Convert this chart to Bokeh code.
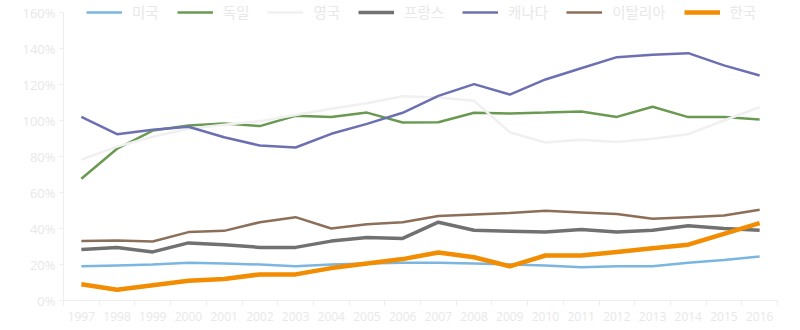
from bokeh.plotting import figure
from bokeh.models import FixedTicker, PrintfTickFormatter, Legend, LegendItem
from bokeh.embed import file_html
from bokeh.resources import INLINE

years = ["1997", "1998", "1999", "2000", "2001", "2002", "2003", "2004", "2005", "2006",
         "2007", "2008", "2009", "2010", "2011", "2012", "2013", "2014", "2015", "2016"]

usa = [19, 19.5, 20, 21, 20.5, 20, 19, 20, 20.5, 21, 21, 20.5, 20, 19.5, 18.5, 19, 19, 21, 22.5, 24.5]
germany = [67.6, 84.3, 94.4, 97.2, 98.3, 96.9, 102.6, 102, 104.4, 98.9, 99, 104.3, 103.9, 104.4, 105, 102, 107.6, 101.9, 101.9, 100.6]
uk = [78.3, 85.5, 91, 95.4, 97.6, 99.6, 103, 106.5, 109.6, 113.5, 112.8, 111, 93.5, 87.8, 89.3, 88, 89.8, 92.4, 100, 107.4]
france = [28.3, 29.5, 27, 32, 31, 29.5, 29.5, 33, 35, 34.5, 43.5, 39, 38.5, 38, 39.5, 38, 39, 41.5, 40, 39]
canada = [102, 92.4, 94.8, 96.5, 90.7, 86.1, 85, 92.6, 98.1, 104.3, 113.7, 120.2, 114.4, 122.8, 129, 135.2, 136.5, 137.4, 130.6, 125]
italy = [33, 33.3, 32.8, 38, 38.7, 43.5, 46.3, 40, 42.4, 43.5, 47, 47.8, 48.6, 49.8, 48.9, 48, 45.4, 46.3, 47.2, 50.4]
korea = [9, 6, 8.5, 11, 12, 14.5, 14.5, 18, 20.5, 23, 26.7, 24, 19, 25, 25, 27, 29, 31, 37, 43]

names = ["미국", "독일", "영국", "프랑스", "캐나다", "이탈리아", "한국"]
series = [usa, germany, uk, france, canada, italy, korea]
colors = ["#7ab6e0", "#6a9a52", "#f0f0f0", "#717171", "#6c70b2", "#8c6f59", "#f28c00"]
widths = [2.5, 2.5, 2.5, 3.5, 2.5, 2.5, 4.5]

y_ticks = [0, 20, 40, 60, 80, 100, 120, 140, 160]

xs = list(range(len(years)))

p = figure(width=800, height=330, output_backend="svg", toolbar_location=None,
           x_range=(-0.5, len(years) - 0.5), y_range=(0, 160 + 12 / 1.8),
           min_border_left=63, min_border_right=23, min_border_top=0, min_border_bottom=30)
p.outline_line_color = None
p.xgrid.visible = False
p.ygrid.visible = False
p.background_fill_color = "white"

items = []
for name, vals, c, w in zip(names, series, colors, widths):
    r = p.line(xs, vals, line_color=c, line_width=w)
    items.append(LegendItem(label=name, renderers=[r]))

axcol = "#eeeeee"
txtcol = "#e8e8e8"

p.xaxis.ticker = FixedTicker(ticks=xs, minor_ticks=[i - 0.5 for i in range(len(years) + 1)])
p.xaxis.major_label_overrides = {i: y for i, y in enumerate(years)}
p.xaxis.major_tick_out = 0
p.xaxis.major_tick_in = 0
p.xaxis.minor_tick_out = 5
p.xaxis.minor_tick_in = 0
p.xaxis.minor_tick_line_color = axcol
p.xaxis.axis_line_color = axcol
p.xaxis.major_label_text_color = txtcol
p.xaxis.major_label_text_font = "Open Sans"
p.xaxis.major_label_text_font_size = "12px"
p.xaxis.major_label_standoff = 6

p.yaxis.ticker = FixedTicker(ticks=y_ticks, minor_ticks=[])
p.yaxis.bounds = (y_ticks[0], y_ticks[-1])
p.yaxis.formatter = PrintfTickFormatter(format="%d%%")
p.yaxis.major_tick_out = 4
p.yaxis.major_tick_in = 0
p.yaxis.major_tick_line_color = axcol
p.yaxis.axis_line_color = axcol
p.yaxis.major_label_text_color = txtcol
p.yaxis.major_label_text_font = "Open Sans"
p.yaxis.major_label_text_font_size = "13px"
p.yaxis.major_label_standoff = 4

legend = Legend(items=items, orientation="horizontal", location=(23, 278),
                glyph_width=36, glyph_height=20, label_height=20, label_standoff=10,
                spacing=18, padding=0, margin=0,
                background_fill_alpha=0, border_line_alpha=0,
                label_text_color=txtcol, label_text_font="Noto Sans CJK KR",
                label_text_font_size="14.5px")
p.add_layout(legend, "center")

open("out.html", "w").write(file_html(p, INLINE))
